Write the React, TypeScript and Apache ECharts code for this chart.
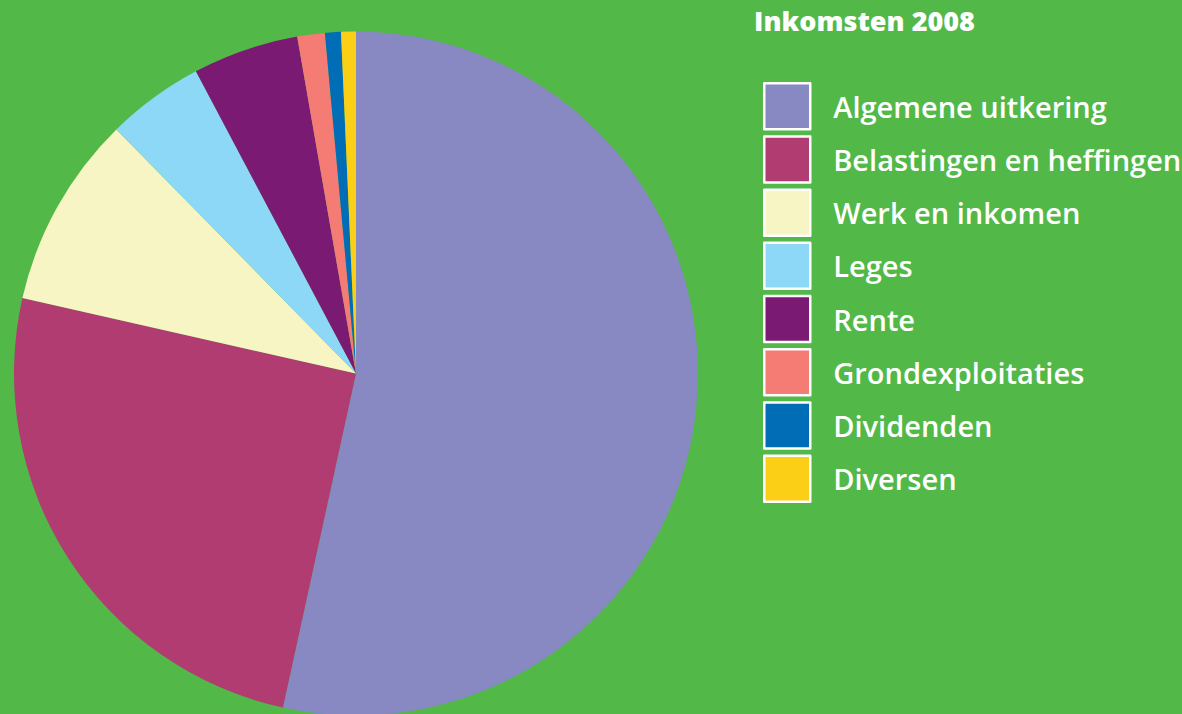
import React, { useEffect, useRef } from "react";
import * as echarts from "echarts";

const categories = [
  "Algemene uitkering",
  "Belastingen en heffingen",
  "Werk en inkomen",
  "Leges",
  "Rente",
  "Grondexploitaties",
  "Dividenden",
  "Diversen",
];
const values = [53.4, 25.1, 9.1, 4.6, 5.0, 1.3, 0.75, 0.7];
const colors = ["#8888C2", "#B03C72", "#F7F5C4", "#8DD8F7", "#7A1A72", "#F47C74", "#006DB6", "#FCCF17"];
const title = "Inkomsten 2008";

export default function App() {
  const ref = useRef<HTMLDivElement>(null);
  useEffect(() => {
    document.body.style.margin = "0";
    const chart = echarts.init(ref.current!, null, { renderer: "svg" });
    chart.setOption({
      animation: false,
      backgroundColor: "#52B848",
      title: {
        text: title,
        left: 754,
        top: 7,
        padding: 0,
        textStyle: { color: "#fff", fontSize: 27, fontWeight: 800, fontFamily: "Open Sans" },
      },
      legend: {
        orient: "vertical",
        left: 763,
        top: 82,
        padding: 0,
        itemWidth: 46,
        itemHeight: 46,
        itemGap: 4.7,
        icon: "rect",
        data: categories,
        itemStyle: { borderColor: "#fff", borderWidth: 2.5 },
        textStyle: {
          color: "#fff",
          fontSize: 29,
          fontWeight: 600,
          fontFamily: "Open Sans",
          padding: [0, 0, 0, 18],
        },
        selectedMode: false,
      },
      series: [
        {
          type: "pie",
          center: [356, 373.5],
          radius: 342,
          startAngle: 90,
          clockwise: true,
          label: { show: false },
          labelLine: { show: false },
          emphasis: { disabled: true },
          data: categories.map((c, i) => ({
            name: c,
            value: values[i],
            itemStyle: { color: colors[i] },
          })),
        },
      ],
    });
    return () => chart.dispose();
  }, []);
  return <div ref={ref} style={{ position: "fixed", left: 0, top: 0, width: 1182, height: 714 }} />;
}
